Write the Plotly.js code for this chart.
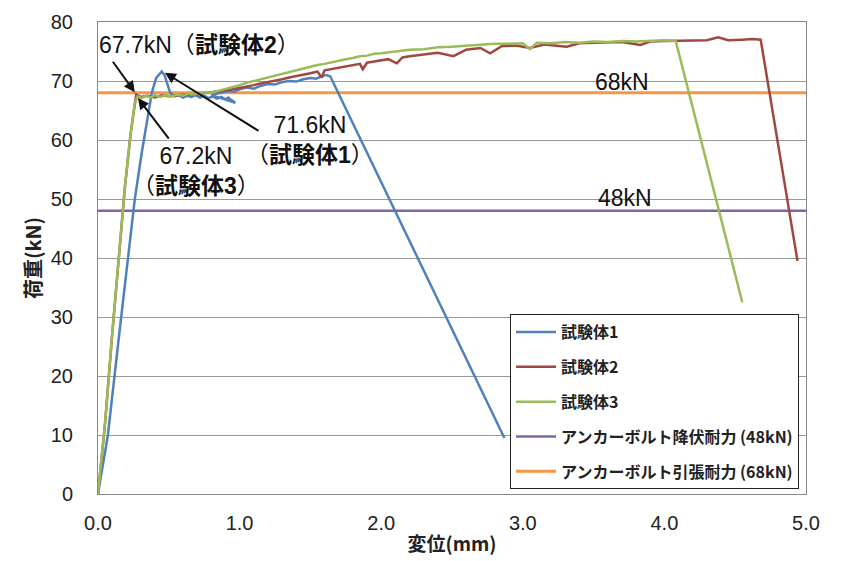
<!DOCTYPE html>
<html>
<head>
<meta charset="utf-8">
<script src="https://cdn.plot.ly/plotly-3.0.1.min.js"></script>
<style>html,body{margin:0;padding:0;background:#fff;}#chart{width:845px;height:561px;}</style>
</head>
<body>
<div id="chart"></div>
<script>
// 試験体1
var x1 = [0, 0.07, 0.14, 0.20, 0.26, 0.31, 0.35, 0.38, 0.41, 0.45, 0.47, 0.49, 0.51, 0.54, 0.57, 0.60, 0.63, 0.66, 0.69, 0.72, 0.75, 0.78, 0.81, 0.84, 0.87, 0.90, 0.92, 0.94, 0.96, 0.97, 0.80, 0.84, 0.88, 0.92, 0.96, 1.00, 1.05, 1.10, 1.15, 1.20, 1.25, 1.30, 1.35, 1.40, 1.45, 1.50, 1.54, 1.58, 1.61, 1.64, 2.87];
var y1 = [0, 10, 25, 38, 50, 58, 64, 68, 70.5, 71.6, 71.0, 69.3, 68.0, 67.4, 67.6, 67.2, 67.5, 67.3, 67.6, 67.2, 67.5, 67.1, 67.4, 67.0, 67.3, 66.9, 67.2, 66.8, 66.4, 66.3, 67.6, 67.9, 68.1, 68.3, 68.2, 68.6, 68.9, 68.7, 69.2, 69.5, 69.4, 69.8, 70.0, 69.9, 70.3, 70.5, 70.4, 70.8, 71.0, 70.8, 9.5];
// 試験体2
var x2 = [0, 0.05, 0.10, 0.15, 0.19, 0.23, 0.26, 0.27, 0.30, 0.35, 0.40, 0.45, 0.50, 0.55, 0.60, 0.65, 0.70, 0.75, 0.80, 0.85, 0.90, 0.95, 1.00, 1.05, 1.10, 1.15, 1.20, 1.25, 1.30, 1.35, 1.40, 1.45, 1.50, 1.55, 1.58, 1.60, 1.65, 1.70, 1.75, 1.80, 1.85, 1.87, 1.90, 1.95, 2.00, 2.05, 2.11, 2.15, 2.20, 2.30, 2.40, 2.51, 2.60, 2.70, 2.77, 2.85, 2.95, 3.05, 3.15, 3.31, 3.40, 3.50, 3.60, 3.70, 3.83, 3.90, 4.00, 4.10, 4.20, 4.30, 4.38, 4.45, 4.55, 4.62, 4.68, 4.94];
var y2 = [0, 12, 27, 41, 52, 61, 66.5, 67.7, 67.3, 67.5, 67.2, 67.6, 67.4, 67.5, 67.6, 67.8, 67.7, 68.0, 68.1, 68.2, 68.4, 68.6, 68.8, 69.1, 69.3, 69.6, 69.8, 70.1, 70.3, 70.6, 70.8, 71.1, 71.3, 71.6, 70.6, 71.8, 72.0, 72.3, 72.5, 72.7, 72.9, 72.0, 73.1, 73.3, 73.5, 73.7, 73.0, 74.0, 74.2, 74.5, 74.8, 74.2, 75.3, 75.6, 74.7, 75.9, 76.0, 75.6, 76.2, 75.8, 76.4, 76.5, 76.5, 76.6, 76.1, 76.7, 76.8, 76.8, 76.9, 76.9, 77.4, 76.9, 77.0, 77.1, 77.0, 39.5];
// 試験体3
var x3 = [0, 0.05, 0.10, 0.15, 0.19, 0.23, 0.26, 0.28, 0.31, 0.34, 0.37, 0.40, 0.44, 0.48, 0.52, 0.56, 0.60, 0.64, 0.68, 0.72, 0.76, 0.80, 0.85, 0.90, 0.95, 1.00, 1.05, 1.10, 1.15, 1.20, 1.25, 1.30, 1.35, 1.40, 1.45, 1.50, 1.55, 1.60, 1.65, 1.70, 1.75, 1.80, 1.85, 1.90, 1.95, 2.00, 2.10, 2.20, 2.30, 2.40, 2.50, 2.60, 2.70, 2.80, 2.90, 3.00, 3.05, 3.10, 3.20, 3.30, 3.40, 3.50, 3.60, 3.70, 3.80, 3.90, 4.00, 4.08, 4.55];
var y3 = [0, 12, 27, 41, 52, 61, 66.3, 67.4, 67.1, 67.5, 67.2, 67.6, 67.3, 67.6, 67.4, 67.7, 67.5, 67.9, 67.7, 68.0, 68.1, 68.0, 68.3, 68.6, 69.0, 69.3, 69.7, 70.0, 70.4, 70.7, 71.0, 71.3, 71.6, 71.8, 72.1, 72.4, 72.7, 72.9, 73.2, 73.4, 73.7, 73.9, 74.2, 74.3, 74.6, 74.7, 75.0, 75.3, 75.4, 75.7, 75.8, 76.0, 76.1, 76.3, 76.3, 76.4, 75.4, 76.5, 76.4, 76.6, 76.5, 76.7, 76.6, 76.8, 76.7, 76.8, 76.9, 76.8, 32.5];
// reference lines
var refX = [0, 5];
var yieldY = [48, 48];
var tensionY = [68, 68];
var names = ['試験体1', '試験体2', '試験体3', 'アンカーボルト降伏耐力 (48kN)', 'アンカーボルト引張耐力 (68kN)'];
var xTicks = [0, 1, 2, 3, 4, 5];
var xTickText = ['0.0', '1.0', '2.0', '3.0', '4.0', '5.0'];
var yTicks = [0, 10, 20, 30, 40, 50, 60, 70, 80];

var F = 'Liberation Sans, Arial, Noto Sans CJK JP, sans-serif';
var FJ = 'Noto Sans CJK JP, Liberation Sans, sans-serif';

function tr(x, y, name, color, w, g) {
  return {x: x, y: y, name: name, type: 'scatter', mode: 'lines',
    line: {color: color, width: w}, legendgroup: g};
}
var data = [
  tr(refX, yieldY, names[3], '#8064A2', 2.5, 'g4'),
  tr(refX, tensionY, names[4], '#F79646', 3, 'g5'),
  tr(x1, y1, names[0], '#4F81BD', 2.5, 'g1'),
  tr(x2, y2, names[1], '#A0473F', 2.5, 'g2'),
  tr(x3, y3, names[2], '#9BBB59', 2.5, 'g3')
];
data[0].legendrank = 4; data[1].legendrank = 5;
data[2].legendrank = 1; data[3].legendrank = 2; data[4].legendrank = 3;

var arrowBase = {text: '', showarrow: true, arrowhead: 2, arrowsize: 1.1, arrowwidth: 2, arrowcolor: '#111', xref: 'x', yref: 'y'};
var annFont = {family: F, size: 23, color: '#111'};
var annotations = [
  Object.assign({}, arrowBase, {x: 0.26, y: 68.1, ax: -23, ay: -32}),
  Object.assign({}, arrowBase, {x: 0.473, y: 71.4, ax: 95, ay: 59}),
  Object.assign({}, arrowBase, {x: 0.282, y: 67.1, ax: 32, ay: 42}),
  {text: '67.7kN（<b>試験体2</b>）', x: 0.715, y: 76.1, xref: 'x', yref: 'y', showarrow: false, font: annFont},
  {text: '71.6kN<br>（<b>試験体1</b>）', x: 1.50, y: 60.0, xref: 'x', yref: 'y', showarrow: false, font: annFont},
  {text: '67.2kN<br>（<b>試験体3</b>）', x: 0.692, y: 54.7, xref: 'x', yref: 'y', showarrow: false, font: annFont},
  {text: '68kN', x: 3.70, y: 69.8, xref: 'x', yref: 'y', showarrow: false, font: annFont},
  {text: '48kN', x: 3.72, y: 50.2, xref: 'x', yref: 'y', showarrow: false, font: annFont}
];

var layout = {
  width: 845, height: 561,
  margin: {l: 98, r: 39, t: 22, b: 67},
  paper_bgcolor: '#fff', plot_bgcolor: '#fff',
  font: {family: F, size: 20, color: '#222'},
  xaxis: {range: [0, 5], tickvals: xTicks, ticktext: xTickText, showgrid: false, zeroline: false,
    showline: true, mirror: true, linecolor: '#888', linewidth: 1, ticks: '', ticklabelstandoff: 11,
    tickfont: {family: F, size: 20, color: '#222'},
    title: {text: '<b>変位(mm)</b>', font: {family: FJ, size: 19, color: '#222'}, standoff: 4}},
  yaxis: {range: [0, 80], tickvals: yTicks, showgrid: true, gridcolor: '#999', gridwidth: 1, zeroline: false,
    showline: true, mirror: true, linecolor: '#888', linewidth: 1, ticks: '', ticklabelstandoff: 20,
    tickfont: {family: F, size: 20, color: '#222'},
    title: {text: '<b>荷重(kN)</b>', font: {family: FJ, size: 20, color: '#222'}, standoff: 3}},
  showlegend: true,
  legend: {x: 0.582, y: 0.381, xanchor: 'left', yanchor: 'top', bgcolor: '#fff', bordercolor: '#222', borderwidth: 1,
    font: {family: FJ, size: 16, color: '#222', weight: 'bold'}, traceorder: 'grouped', tracegroupgap: 11, itemwidth: 40},
  annotations: annotations
};
Plotly.newPlot('chart', data, layout, {displayModeBar: false, staticPlot: true});
</script>
</body>
</html>
